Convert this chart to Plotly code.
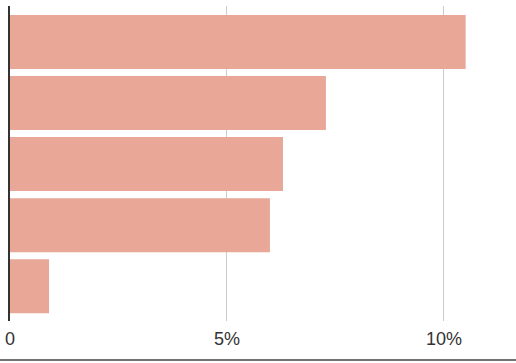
import plotly.graph_objects as go

categories = ["A", "B", "C", "D", "E"]
values = [10.5, 7.28, 6.29, 5.99, 0.9]
tick_vals = [0, 5, 10]
tick_text = ["0", "5%", "10%"]

fig = go.Figure(go.Bar(
    x=values, y=categories, orientation="h",
    marker=dict(color="#E8A797", line=dict(width=0)),
    hoverinfo="skip",
))

fig.update_layout(
    width=516, height=363,
    margin=dict(l=10, r=0, t=6, b=42),
    plot_bgcolor="white", paper_bgcolor="white",
    bargap=0.115,
    showlegend=False,
    font=dict(family="Liberation Sans, Arial, Helvetica, sans-serif", size=18, color="#333"),
    xaxis=dict(
        range=[0, 11.66], tickvals=tick_vals, ticktext=tick_text,
        showgrid=True, gridcolor="#cccccc", gridwidth=1,
        zeroline=False, showline=False,
        ticks="outside", ticklen=1, tickcolor="rgba(0,0,0,0)",
        automargin=False, fixedrange=True,
    ),
    yaxis=dict(
        categoryorder="array", categoryarray=categories,
        range=[4.57, -0.59], showticklabels=False,
        showgrid=False, zeroline=False,
        showline=True, linecolor="#333", linewidth=2,
        automargin=False, fixedrange=True,
    ),
    shapes=[dict(type="line", xref="paper", yref="paper",
                 x0=-10/506, x1=1, y0=-39/315, y1=-39/315,
                 line=dict(color="#444", width=1.5))],
)

fig.write_html("out.html")
